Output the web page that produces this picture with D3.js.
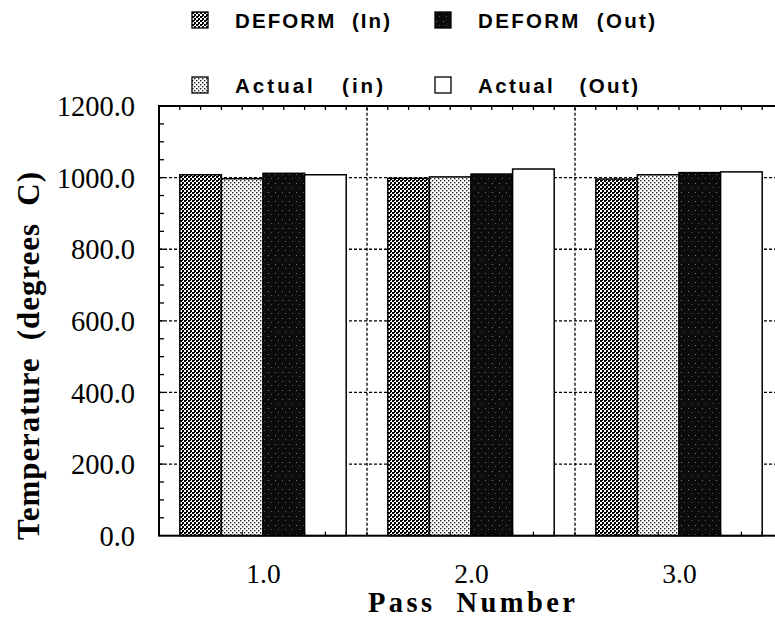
<!DOCTYPE html>
<html>
<head>
<meta charset="utf-8">
<script src="https://cdn.jsdelivr.net/npm/d3@7"></script>
<style>
  html, body { margin: 0; padding: 0; background: #fff; }
  svg { display: block; }
  text { white-space: pre; }
</style>
</head>
<body>
<svg id="chart" width="775" height="619"></svg>
<script>
// ---- data ----
const passes = [1.0, 2.0, 3.0];
const seriesNames = ["DEFORM  (In)", "Actual   (in)", "DEFORM  (Out)", "Actual   (Out)"];
const deformIn  = [1008, 998, 996];
const actualIn  = [997, 1002, 1008];
const deformOut = [1012, 1010, 1014];
const actualOut = [1008, 1024, 1016];
const yTicks = [0, 200, 400, 600, 800, 1000, 1200];
const xTickLabels = ["1.0", "2.0", "3.0"];

const seriesValues = [deformIn, actualIn, deformOut, actualOut];
const barOffsets = [-0.4, -0.2, 0.0, 0.2];
const barW = 0.2;

const svg = d3.select("#chart");
const x = d3.scaleLinear().domain([0.5, 3.5]).range([159, 783]);
const y = d3.scaleLinear().domain([0, 1200]).range([535.7, 106]);

// ---- patterns ----
const defs = svg.append("defs");
const p1 = defs.append("pattern").attr("id", "checker").attr("patternUnits", "userSpaceOnUse")
  .attr("width", 4).attr("height", 4);
p1.append("rect").attr("width", 4).attr("height", 4).attr("fill", "#fff");
p1.append("rect").attr("x", 0).attr("y", 0).attr("width", 2).attr("height", 2).attr("fill", "#000");
p1.append("rect").attr("x", 2).attr("y", 2).attr("width", 2).attr("height", 2).attr("fill", "#000");
p1.append("rect").attr("x", 2).attr("y", 0).attr("width", 1).attr("height", 1).attr("fill", "#000");

const p2 = defs.append("pattern").attr("id", "dots").attr("patternUnits", "userSpaceOnUse")
  .attr("width", 4).attr("height", 4);
p2.append("rect").attr("width", 4).attr("height", 4).attr("fill", "#fff");
p2.append("rect").attr("x", 0).attr("y", 0).attr("width", 1.4).attr("height", 1.4).attr("fill", "#222");
p2.append("rect").attr("x", 2).attr("y", 2).attr("width", 1.4).attr("height", 1.4).attr("fill", "#222");

const p3 = defs.append("pattern").attr("id", "speck").attr("patternUnits", "userSpaceOnUse")
  .attr("width", 7).attr("height", 9);
p3.append("rect").attr("width", 7).attr("height", 9).attr("fill", "#0c0c0c");
p3.append("rect").attr("x", 2).attr("y", 3).attr("width", 1).attr("height", 1).attr("fill", "#777");
p3.append("rect").attr("x", 5).attr("y", 7).attr("width", 1).attr("height", 1).attr("fill", "#555");

const fills = ["url(#checker)", "url(#dots)", "url(#speck)", "#fff"];

// ---- gridlines ----
const grid = svg.append("g");
grid.selectAll("line.h").data(yTicks.filter(v => v > 0 && v < 1200)).join("line")
  .attr("x1", x(0.5)).attr("x2", x(3.5))
  .attr("y1", d => y(d)).attr("y2", d => y(d))
  .attr("stroke", "#000").attr("stroke-width", 1.3).attr("stroke-dasharray", "3,2");
grid.selectAll("line.v").data([1.5, 2.5]).join("line")
  .attr("x1", d => x(d)).attr("x2", d => x(d))
  .attr("y1", y(0)).attr("y2", y(1200))
  .attr("stroke", "#000").attr("stroke-width", 1.3).attr("stroke-dasharray", "3,2");

// ---- bars ----
const barsG = svg.append("g");
seriesValues.forEach((vals, si) => {
  barsG.selectAll(null).data(vals).join("rect")
    .attr("x", (d, i) => x(passes[i] + barOffsets[si]))
    .attr("width", x(barW) - x(0))
    .attr("y", d => y(d))
    .attr("height", d => y(0) - y(d))
    .attr("fill", fills[si])
    .attr("stroke", "#000").attr("stroke-width", 1.5);
});

// ---- minor ticks ----
const tickG = svg.append("g").attr("stroke", "#000").attr("stroke-width", 1.3);
const yMinor = d3.range(50, 1200, 50);
tickG.selectAll("line.ym").data(yMinor).join("line")
  .attr("x1", x(0.5)).attr("x2", x(0.5) + 5)
  .attr("y1", d => y(d)).attr("y2", d => y(d));
const xMinor = d3.range(6, 35).map(v => v / 10);
tickG.selectAll("line.xb").data(xMinor).join("line")
  .attr("x1", d => x(d)).attr("x2", d => x(d))
  .attr("y1", y(0)).attr("y2", y(0) - 4);
tickG.selectAll("line.xt").data(xMinor).join("line")
  .attr("x1", d => x(d)).attr("x2", d => x(d))
  .attr("y1", y(1200)).attr("y2", y(1200) + 4);

// ---- frame ----
svg.append("rect").attr("x", x(0.5)).attr("y", y(1200))
  .attr("width", x(3.5) - x(0.5)).attr("height", y(0) - y(1200))
  .attr("fill", "none").attr("stroke", "#000").attr("stroke-width", 2);

// ---- axes labels via d3 axes ----
const serif = "'Liberation Serif', 'Times New Roman', serif";
const yAxis = d3.axisLeft(y).tickValues(yTicks).tickSize(0).tickPadding(0)
  .tickFormat(d3.format(".1f"));
const yAxG = svg.append("g").attr("transform", "translate(135,0)").call(yAxis);
yAxG.select(".domain").remove();
yAxG.selectAll("text").attr("font-family", serif)
  .attr("font-size", 28.5).attr("fill", "#000").attr("dy", "0.34em").attr("x", 0);

const xAxis = d3.axisBottom(x).tickValues(passes).tickSize(0).tickPadding(0)
  .tickFormat((d, i) => xTickLabels[i]);
const xAxG = svg.append("g").attr("transform", "translate(0,583)").call(xAxis);
xAxG.select(".domain").remove();
xAxG.selectAll("text").attr("font-family", serif)
  .attr("font-size", 27.5).attr("fill", "#000").attr("dy", 0).attr("y", 0);

svg.append("text").attr("x", 471.5).attr("y", 612)
  .attr("text-anchor", "middle")
  .attr("font-family", serif)
  .attr("font-weight", "bold").attr("font-size", 28.5)
  .attr("textLength", 207).attr("lengthAdjust", "spacing")
  .text("Pass  Number");

svg.append("text").attr("transform", "translate(39,356) rotate(-90)")
  .attr("text-anchor", "middle")
  .attr("font-family", serif)
  .attr("font-weight", "bold").attr("font-size", 31)
  .attr("textLength", 368).attr("lengthAdjust", "spacing")
  .text("Temperature  (degrees  C)");

// ---- legend ----
const legendItems = [
  { name: seriesNames[0], fill: fills[0], sx: 192, sy: 12, tx: 235, ty: 28, len: 155 },
  { name: seriesNames[2], fill: fills[2], sx: 435, sy: 12, tx: 478, ty: 28, len: 177 },
  { name: seriesNames[1], fill: fills[1], sx: 192, sy: 77, tx: 235, ty: 93, len: 148 },
  { name: seriesNames[3], fill: fills[3], sx: 435, sy: 77, tx: 478, ty: 93, len: 160 }
];
const lg = svg.append("g");
legendItems.forEach(it => {
  lg.append("rect").attr("x", it.sx).attr("y", it.sy).attr("width", 16).attr("height", 16)
    .attr("fill", it.fill).attr("stroke", "#000").attr("stroke-width", 1.3);
  lg.append("text").attr("x", it.tx).attr("y", it.ty)
    .attr("font-family", "'Liberation Sans', Arial, sans-serif")
    .attr("font-weight", "bold").attr("font-size", 20.5)
    .attr("textLength", it.len).attr("lengthAdjust", "spacing")
    .text(it.name);
});
</script>
</body>
</html>
